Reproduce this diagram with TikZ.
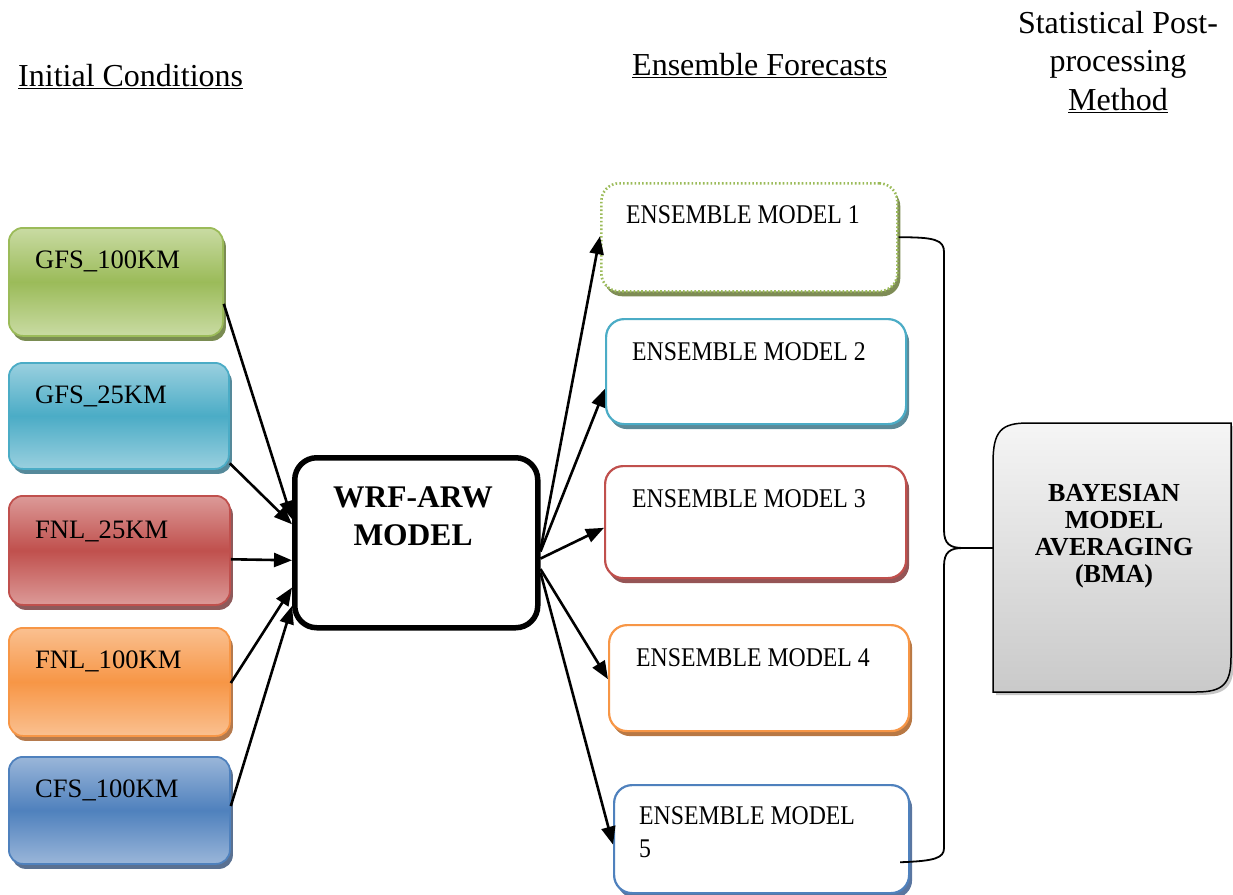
\documentclass[tikz,border=0pt]{standalone}
\usepackage{fontspec}
\setmainfont{Liberation Serif}
\newfontfamily\emfont[FakeStretch=0.88]{Liberation Serif}
\usetikzlibrary{arrows.meta,calc,shadows}
\definecolor{gL}{HTML}{C9DBA3}\definecolor{gM}{HTML}{9BBB59}\definecolor{gS}{HTML}{7A8C52}\definecolor{gE}{HTML}{7E8C55}
\definecolor{bL}{HTML}{9AD0DF}\definecolor{bM}{HTML}{4BACC6}\definecolor{bS}{HTML}{55899A}\definecolor{bE}{HTML}{5B8A99}
\definecolor{rL}{HTML}{DC9A98}\definecolor{rM}{HTML}{C0504D}\definecolor{rS}{HTML}{8E5A5B}\definecolor{rE}{HTML}{955556}
\definecolor{oL}{HTML}{FAC090}\definecolor{oM}{HTML}{F79646}\definecolor{oS}{HTML}{B57A4D}\definecolor{oE}{HTML}{B87844}
\definecolor{cL}{HTML}{9AB6D9}\definecolor{cM}{HTML}{4F81BD}\definecolor{cS}{HTML}{5A7192}\definecolor{cE}{HTML}{5A76A0}
\tikzset{
 ibox/.style={rectangle, rounded corners=14pt, anchor=north west, inner sep=0pt, line width=1.8pt, draw=#1M,
   top color=#1L, bottom color=#1L, middle color=#1M,
   drop shadow={fill=#1S, opacity=1, shadow xshift=3pt, shadow yshift=-5pt}},
 itext/.style={anchor=base west, inner sep=0pt, font=\fontsize{26.6}{30}\selectfont},
 ebox/.style={rectangle, rounded corners=18pt, anchor=north west, inner sep=0pt, line width=2.2pt, draw=#1M, fill=white,
   drop shadow={fill=#1E, opacity=1, shadow xshift=3pt, shadow yshift=-5pt}},
 etext/.style={anchor=base west, inner sep=0pt, font=\emfont\fontsize{27}{33}\selectfont},
 arr/.style={line width=2.6pt, -{Triangle[length=18pt,width=14pt]}},
 title/.style={inner sep=0pt, font=\fontsize{32}{38.5}\selectfont},
 brace/.style={line width=1.8pt},
}
\begin{document}
\begin{tikzpicture}[x=1pt,y=-1pt]
\useasboundingbox (0,0) rectangle (1233,894);
% titles
\node[title, anchor=base west] (tic) at (18,86) {\underline{Initial Conditions}};
\node[title, anchor=base west] (tef) at (632,75) {\underline{Ensemble Forecasts}};
\node[title, anchor=north, align=center] (tsp) at (1118,11) {Statistical Post-\\processing\\\underline{Method}};
% initial condition boxes
\node[ibox=g, minimum width=214pt, minimum height=108pt] (gfs100) at (8,227) {};
\node[ibox=b, minimum width=220pt, minimum height=106pt] (gfs25) at (8,362) {};
\node[ibox=r, minimum width=221pt, minimum height=109pt] (fnl25) at (8,495) {};
\node[ibox=o, minimum width=221pt, minimum height=108pt] (fnl100) at (8,627) {};
\node[ibox=c, minimum width=221pt, minimum height=107pt] (cfs100) at (8,756) {};
\node[itext] (tgfs100) at (35,268) {GFS\_100KM};
\node[itext] (tgfs25) at (35,403) {GFS\_25KM};
\node[itext] (tfnl25) at (35,538) {FNL\_25KM};
\node[itext] (tfnl100) at (35,668) {FNL\_100KM};
\node[itext] (tcfs100) at (35,797) {CFS\_100KM};
% WRF
\node[rectangle, rounded corners=22pt, anchor=north west, inner sep=0pt, line width=5.5pt, draw=black, fill=white,
      minimum width=243pt, minimum height=170pt] (wrf) at (292,455) {};
\node[anchor=north, align=center, inner sep=0pt, font=\fontsize{31.5}{38}\selectfont\bfseries] (twrf) at (413,486) {WRF-ARW\\MODEL};
% ensemble boxes
\node[ebox=g, dash pattern=on 1.6pt off 2.2pt, line width=2.6pt, minimum width=296pt, minimum height=108pt] (em1) at (600,182) {};
\node[ebox=b, minimum width=300pt, minimum height=105pt] (em2) at (605,318) {};
\node[ebox=r, minimum width=301pt, minimum height=112pt] (em3) at (604,465) {};
\node[ebox=o, minimum width=300pt, minimum height=106pt] (em4) at (608,624) {};
\node[ebox=c, minimum width=295pt, minimum height=108pt] (em5) at (613,784) {};
\node[etext] (tem1) at (626,223) {ENSEMBLE MODEL 1};
\node[etext] (tem2) at (632,360) {ENSEMBLE MODEL 2};
\node[etext] (tem3) at (632,507) {ENSEMBLE MODEL 3};
\node[etext] (tem4) at (636,666) {ENSEMBLE MODEL 4};
\node[etext] (tem5a) at (639,824) {ENSEMBLE MODEL};
\node[etext] (tem5b) at (639,857) {5};
% BMA
\node[rectangle, anchor=north west, inner sep=0pt, outer sep=0pt, minimum width=238pt, minimum height=269pt] (bma) at (993,423) {};
\fill[gray!45, transform canvas={shift={(3pt,-3pt)}}] (bma.south west) -- ([yshift=-40pt]bma.north west)
  .. controls ([yshift=-8pt]bma.north west) and ([xshift=8pt]bma.north west) .. ([xshift=35pt]bma.north west)
  -- (bma.north east) -- ([yshift=35pt]bma.south east)
  .. controls ([yshift=8pt]bma.south east) and ([xshift=-8pt]bma.south east) .. ([xshift=-35pt]bma.south east) -- cycle;
\draw[line width=1.5pt, top color=gray!8, bottom color=gray!42] (bma.south west) -- ([yshift=-40pt]bma.north west)
  .. controls ([yshift=-8pt]bma.north west) and ([xshift=8pt]bma.north west) .. ([xshift=35pt]bma.north west)
  -- (bma.north east) -- ([yshift=35pt]bma.south east)
  .. controls ([yshift=8pt]bma.south east) and ([xshift=-8pt]bma.south east) .. ([xshift=-35pt]bma.south east) -- cycle;
\node[anchor=north, align=center, inner sep=0pt, font=\fontsize{26}{26.7}\selectfont\bfseries] (tbma) at (1114,484.5) {BAYESIAN\\MODEL\\AVERAGING\\(BMA)};
% arrows into WRF
\draw[arr] ($(gfs100.north east)!0.70!(gfs100.south east)$) -- ($(wrf.north west)!0.365!(wrf.south west)$);
\draw[arr] ($(gfs25.north east)!0.94!(gfs25.south east)$) -- ($(wrf.north west)!0.395!(wrf.south west)$);
\draw[arr] ($(fnl25.north east)!0.58!(fnl25.south east)$) -- ($(wrf.north west)!0.60!(wrf.south west)$);
\draw[arr] ($(fnl100.north east)!0.51!(fnl100.south east)$) -- ($(wrf.north west)!0.755!(wrf.south west)$);
\draw[arr] ($(cfs100.north east)!0.46!(cfs100.south east)$) -- ($(wrf.north west)!0.86!(wrf.south west)$);
% arrows out of WRF
\draw[arr] ($(wrf.north east)!0.54!(wrf.south east)$) -- ($(em1.north west)!0.49!(em1.south west)$);
\draw[arr] ($(wrf.north east)!0.55!(wrf.south east)$) -- ($(em2.north west)!0.66!(em2.south west)$);
\draw[arr] ($(wrf.north east)!0.59!(wrf.south east)$) -- ($(em3.north west)!0.55!(em3.south west)$);
\draw[arr] ($(wrf.north east)!0.65!(wrf.south east)$) -- ($(em4.north west)!0.51!(em4.south west)$);
\draw[arr] ($(wrf.north east)!0.67!(wrf.south east)$) -- ($(em5.north west)!0.55!(em5.south west)$);
% brace
\coordinate (bt) at (963,548);
\coordinate (b5) at ($([xshift=-10pt]em5.north east)!0.71!([xshift=-10pt]em5.south east)$);
\draw[brace] (em1.east) .. controls (935,237) and (944,240) .. (944,252) -- (944,530)
  .. controls (944,544) and (950,548) .. (bt) -- ([yshift=9.5pt]bma.west);
\draw[brace] (bt) .. controls (950,548) and (944,552) .. (944,566) -- (944,848)
  .. controls (944,858) and (935,861) .. (b5);
\end{tikzpicture}
\end{document}
